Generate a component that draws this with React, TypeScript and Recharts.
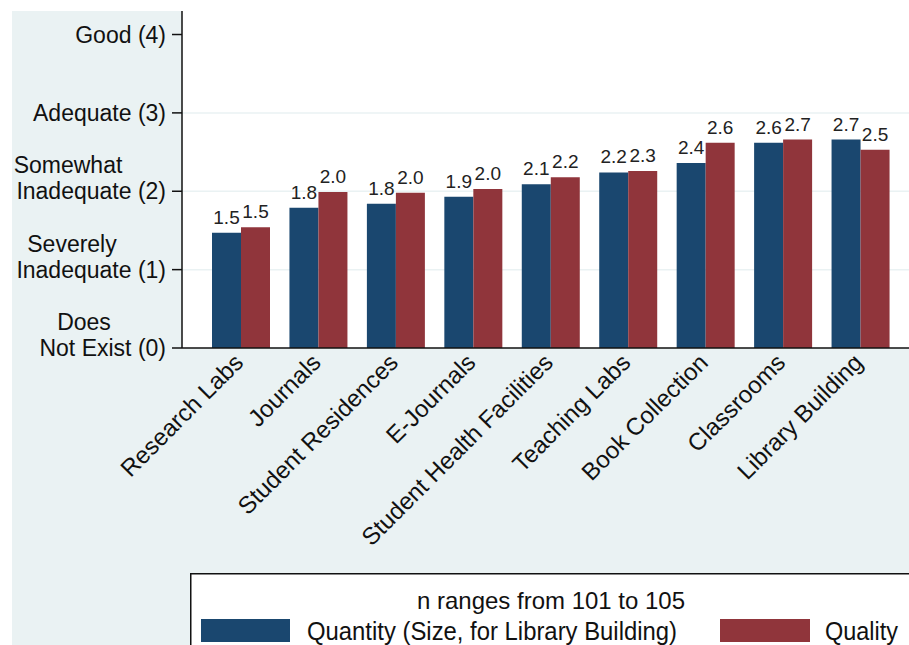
import React from 'react';
import {
  BarChart,
  Bar,
  XAxis,
  YAxis,
  CartesianGrid,
  LabelList,
  Legend,
} from 'recharts';

const categories = [
  'Research Labs',
  'Journals',
  'Student Residences',
  'E-Journals',
  'Student Health Facilities',
  'Teaching Labs',
  'Book Collection',
  'Classrooms',
  'Library Building',
];
const quantity = [1.47, 1.79, 1.84, 1.93, 2.09, 2.24, 2.36, 2.62, 2.66];
const quality = [1.54, 1.99, 1.98, 2.03, 2.18, 2.26, 2.62, 2.66, 2.53];

const yTicks = [0, 1, 2, 3, 4];
const yTickLabels = [
  'Does\nNot Exist (0)',
  'Severely\nInadequate (1)',
  'Somewhat\nInadequate (2)',
  'Adequate (3)',
  'Good (4)',
];
const yDomain: [number, number] = [0, 4.3];
const gridValues = [1, 2, 3];

const seriesNames = ['Quantity (Size, for Library Building)', 'Quality'];
const legendTitle = 'n ranges from 101 to 105';

const NAVY = '#1a476f';
const MAROON = '#90353b';
const BG = '#eaf2f3';
const FONT = '"Liberation Sans", Arial, sans-serif';

const data = categories.map((name, i) => ({
  name,
  quantity: quantity[i],
  quality: quality[i],
}));

// first line of two-line labels is roughly centred, as Stata drew it
const firstLineShift: Record<string, number> = {
  Does: -82,
  Severely: -94,
  Somewhat: -98,
};

function YTick(props: any) {
  const { x, y, payload } = props;
  const label = yTickLabels[yTicks.indexOf(payload.value)] ?? '';
  const lines = label.split('\n');
  const last = lines[lines.length - 1];
  return (
    <g>
      {lines.length > 1 && (
        <text
          x={x + (firstLineShift[lines[0]] ?? -90)}
          y={y - 26}
          dy={8}
          textAnchor="middle"
          fontSize={23}
          fontFamily={FONT}
          fill="#111"
        >
          {lines[0]}
        </text>
      )}
      <text x={x} y={y} dy={8} textAnchor="end" fontSize={23} fontFamily={FONT} fill="#111">
        {last}
      </text>
    </g>
  );
}

function XTick(props: any) {
  const { x, y, payload } = props;
  return (
    <g transform={`translate(${x + 4},${y})`}>
      <text
        x={0}
        y={0}
        textAnchor="end"
        transform="rotate(-45)"
        fontSize={24}
        fontFamily={FONT}
        fill="#111"
      >
        {payload.value}
      </text>
    </g>
  );
}

function LegendBox() {
  const colors = [NAVY, MAROON];
  return (
    <svg width={722} height={80} style={{ display: 'block' }}>
      <rect x={0.75} y={0.75} width={720} height={78} fill="#fff" stroke="#111" strokeWidth={1.5} />
      <text
        x={361}
        y={36}
        textAnchor="middle"
        fontSize={24}
        fontFamily={FONT}
        fill="#111"
        textLength={268}
        lengthAdjust="spacingAndGlyphs"
      >
        {legendTitle}
      </text>
      <rect x={11} y={46} width={89} height={23} fill={colors[0]} />
      <text
        x={117}
        y={67}
        fontSize={25}
        fontFamily={FONT}
        fill="#111"
        textLength={370}
        lengthAdjust="spacingAndGlyphs"
      >
        {seriesNames[0]}
      </text>
      <rect x={530} y={46} width={90} height={23} fill={colors[1]} />
      <text
        x={635}
        y={67}
        fontSize={25}
        fontFamily={FONT}
        fill="#111"
        textLength={73}
        lengthAdjust="spacingAndGlyphs"
      >
        {seriesNames[1]}
      </text>
    </svg>
  );
}

// grid only at 1, 2 and 3, drawn under the bars
const gridCoords = ({ yAxis, offset }: any) => {
  if (yAxis && typeof yAxis.scale === 'function') return gridValues.map(v => yAxis.scale(v));
  const [lo, hi] = yDomain;
  return gridValues.map(v => offset.top + offset.height * (1 - (v - lo) / (hi - lo)));
};

export default function App() {
  return (
    <div
      style={{
        position: 'absolute',
        left: 0,
        top: 0,
        width: 909,
        height: 645,
        overflow: 'hidden',
        background: '#fff',
        fontFamily: FONT,
      }}
    >
      <div style={{ position: 'absolute', left: 12, top: 11, right: 0, bottom: 0, background: BG }} />
      <div style={{ position: 'absolute', left: 0, top: 0 }}>
        <BarChart
          width={909}
          height={645}
          data={data}
          margin={{ top: 11, right: 0, bottom: 0, left: 0 }}
          barGap={0}
        >
          <CartesianGrid
            fill="#fff"
            stroke={BG}
            strokeWidth={1.5}
            vertical={false}
            horizontalCoordinatesGenerator={gridCoords}
          />
          <XAxis
            dataKey="name"
            interval={0}
            height={297}
            padding={{ left: 20, right: 10 }}
            tickLine={false}
            tickSize={0}
            tickMargin={16}
            axisLine={{ stroke: '#111', strokeWidth: 1.5 }}
            tick={<XTick />}
          />
          <YAxis
            width={182}
            domain={yDomain}
            ticks={yTicks}
            interval={0}
            tickSize={10}
            tickMargin={6}
            tickLine={{ stroke: '#111', strokeWidth: 1.5 }}
            axisLine={{ stroke: '#111', strokeWidth: 1.5 }}
            tick={<YTick />}
          />
          <Legend
            layout="horizontal"
            verticalAlign="middle"
            align="center"
            width={722}
            height={80}
            wrapperStyle={{ position: 'absolute', left: 190, top: 573, width: 722, height: 80 }}
            content={<LegendBox />}
          />
          <Bar dataKey="quantity" name={seriesNames[0]} fill={NAVY} barSize={29} isAnimationActive={false}>
            <LabelList
              dataKey="quantity"
              position="top"
              offset={9}
              fontSize={19}
              fontFamily={FONT}
              fill="#222"
              formatter={(v: any) => Number(v).toFixed(1)}
            />
          </Bar>
          <Bar dataKey="quality" name={seriesNames[1]} fill={MAROON} barSize={29} isAnimationActive={false}>
            <LabelList
              dataKey="quality"
              position="top"
              offset={9}
              fontSize={19}
              fontFamily={FONT}
              fill="#222"
              formatter={(v: any) => Number(v).toFixed(1)}
            />
          </Bar>
        </BarChart>
      </div>
    </div>
  );
}
